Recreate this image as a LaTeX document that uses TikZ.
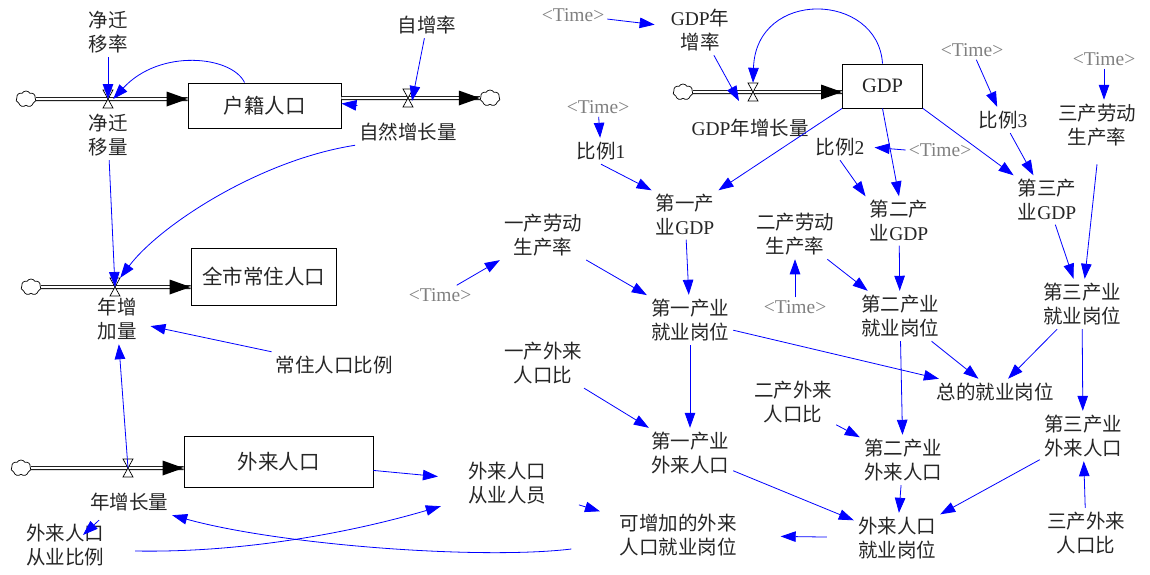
\documentclass[tikz,border=0pt]{standalone}
\usepackage{fontspec}
\setmainfont{Liberation Serif}
\newfontfamily\cjk{Noto Sans CJK SC}
\usetikzlibrary{arrows.meta,shapes.symbols,calc}
\newcommand\latn[1]{{\rmfamily #1}}
\newcommand\tm{\textless Time\textgreater}
\newcommand\drawvalve[1]{\draw[line width=0.7pt, fill=white] ([shift={(-5,-9)}]#1.center) -- ([shift={(5,-9)}]#1.center) -- ([shift={(-5,9)}]#1.center) -- ([shift={(5,9)}]#1.center) -- cycle;}
\begin{document}
\begin{tikzpicture}[x=1pt,y=-1pt,
  lab/.style={align=center, font=\cjk\fontsize{19.5}{24}\selectfont, inner sep=4pt, text=black!85},
  tim/.style={font=\rmfamily\fontsize{19.5}{24}\selectfont, text=black!50, inner sep=3pt},
  stock/.style={draw, line width=0.9pt, font=\cjk\fontsize{20.5}{24}\selectfont, inner sep=0pt, text=black!85},
  cn/.style={draw=blue, line width=0.8pt, -{Triangle[length=15pt,width=10.5pt]}},
  pipe/.style={draw=black, line width=0.8pt, double=white, double distance=2.4pt},
  vnode/.style={minimum width=10pt, minimum height=18pt, inner sep=0pt},
  cld/.style={cloud, cloud puffs=7, cloud puff arc=120, aspect=1.2, draw, line width=0.7pt, minimum width=20pt, minimum height=16pt, inner sep=0pt, fill=white},
]
\useasboundingbox (0,0) rectangle (1150,574);

% stocks
\node[stock, minimum width=153pt, minimum height=45pt] (hjrk) at (264.5,105.5) {户籍人口};
\node[stock, minimum width=145pt, minimum height=57pt] (qcrk) at (263.5,276.5) {全市常住人口};
\node[stock, minimum width=189pt, minimum height=51pt] (wlrk) at (278.5,461.5) {外来人口};
\node[stock, minimum width=80pt, minimum height=44pt, font=\rmfamily\fontsize{20.5}{24}\selectfont] (gdp) at (882.5,86) {GDP};

% valves and clouds
\node[vnode] (v1) at (108,99) {};
\node[vnode] (v2) at (408,98) {};
\node[vnode] (v3) at (115,287) {};
\node[vnode] (v4) at (128,468) {};
\node[vnode] (v5) at (753,92) {};
\node[cld] (c1) at (26,99) {};
\node[cld] (c2) at (490,98) {};
\node[cld] (c3) at (31,287) {};
\node[cld] (c4) at (21,468) {};
\node[cld] (c5) at (683,92) {};

% pipes
\draw[pipe] (c1) -- (hjrk.west |- c1);
\draw[pipe] (hjrk.east |- c2) -- (c2);
\draw[pipe] (c3) -- (qcrk.west |- c3);
\draw[pipe] (c4) -- (wlrk.west |- c4);
\draw[pipe] (c5) -- (gdp.west |- c5);
\drawvalve{v1}
\drawvalve{v2}
\drawvalve{v3}
\drawvalve{v4}
\drawvalve{v5}
\fill (hjrk.west |- c1) -- ++(-21,-7.5) -- ++(0,15) -- cycle;
\fill (c2.west) -- ++(-21,-7.5) -- ++(0,15) -- cycle;
\fill (qcrk.west |- c3) -- ++(-21,-7.5) -- ++(0,15) -- cycle;
\fill (wlrk.west |- c4) -- ++(-21,-7.5) -- ++(0,15) -- cycle;
\fill (gdp.west |- c5) -- ++(-21,-7.5) -- ++(0,15) -- cycle;

% labels
\node[lab] (jqyl) at (108,32) {净迁\\移率};
\node[lab] (zzl) at (427,25) {自增率};
\node[lab] (jqyliang) at (108,135) {净迁\\移量};
\node[lab] (zrzzl) at (408,132) {自然增长量};
\node[lab] (nzjl) at (117,319) {年增\\加量};
\node[lab] (czbl) at (334,365) {常住人口比例};
\node[lab] (nzzl) at (129,502) {年增长量};
\node[lab] (wlcybl) at (65,545) {外来人口\\从业比例};
\node[lab] (wlcyry) at (507,483) {外来人口\\从业人员};
\node[lab] (kzj) at (678,535) {可增加的外来\\人口就业岗位};
\node[tim] (t1) at (573,15) {\tm};
\node[lab] (gdpr) at (700,30) {\latn{GDP}年\\增率};
\node[lab] (gdpzl) at (750,128) {\latn{GDP}年增长量};
\node[tim] (t2) at (598,107) {\tm};
\node[lab] (bl1) at (601,151) {比例\latn{1}};
\node[lab] (g1) at (685,215) {第一产\\业\latn{GDP}};
\node[lab] (bl2) at (840,147) {比例\latn{2}};
\node[tim] (t3) at (940,150) {\tm};
\node[lab] (g2) at (899,221) {第二产\\业\latn{GDP}};
\node[tim] (t4) at (972,50) {\tm};
\node[lab] (bl3) at (1003,120) {比例\latn{3}};
\node[lab] (g3) at (1047,200) {第三产\\业\latn{GDP}};
\node[tim] (t5) at (1104,59) {\tm};
\node[lab] (sl3) at (1097,125) {三产劳动\\生产率};
\node[lab] (j3) at (1082,304) {第三产业\\就业岗位};
\node[lab] (sl1) at (543,235) {一产劳动\\生产率};
\node[tim] (t6) at (440,295) {\tm};
\node[lab] (j1) at (690,320) {第一产业\\就业岗位};
\node[lab] (sl2) at (795,234) {二产劳动\\生产率};
\node[tim] (t7) at (795,307) {\tm};
\node[lab] (j2) at (900,316) {第二产业\\就业岗位};
\node[lab] (zj) at (995,392) {总的就业岗位};
\node[lab] (wb1) at (543,363) {一产外来\\人口比};
\node[lab] (w1) at (690,453) {第一产业\\外来人口};
\node[lab] (wb2) at (793,402) {二产外来\\人口比};
\node[lab] (w2) at (903,460) {第二产业\\外来人口};
\node[lab] (w3) at (1083,436) {第三产业\\外来人口};
\node[lab] (wb3) at (1086,533) {三产外来\\人口比};
\node[lab] (wj) at (897,538) {外来人口\\就业岗位};

% connectors (left part)
\draw[cn] (jqyl) -- (v1.center);
\draw[cn] (zzl) -- ([shift={(4,3)}]v2.center);
\draw[cn] (hjrk.131) .. controls (232,56) and (160,48) .. (v1.east);
\draw[cn] (zrzzl.south west) .. controls (260,160) and (160,225) .. (v3.north east);
\draw[cn] (jqyliang) -- (v3.center);
\draw[cn, shorten >=10pt] (czbl) -- (nzjl);
\draw[cn] (v4.center) -- (nzjl);
\draw[cn] ([xshift=16pt]hjrk.east) -- ([yshift=2pt]hjrk.east);
\draw[cn, shorten >=26pt] (wlrk) -- (wlcyry);
\draw[cn] ([shift={(27,6)}]wlcybl.east) .. controls (250,553) and (360,530) .. ([shift={(-23,-2)}]wlcyry.south west);
\draw[cn] ([shift={(-44,14)}]kzj.west) .. controls (480,560) and (280,545) .. (nzzl.south east);
\draw[cn] ([shift={(-30,5)}]nzzl.south) -- ([shift={(18,-10)}]wlcybl.center);

% connectors (GDP part)
\draw[cn, shorten >=12pt] (t1) -- (gdpr);
\draw[cn] (gdpr) -- ([shift={(-14,9)}]v5.center);
\draw[cn] (gdp.north) .. controls (878,-8) and (756,-12) .. (v5.north);
\draw[cn] (t2) -- (bl1);
\draw[cn] (bl1.south) -- (g1.north west);
\draw[cn] (gdp.south west) -- (g1.north east);
\draw[cn, shorten >=6pt] (t3.west) -- (bl2.east);
\draw[cn] (bl2.south) -- (g2.north west);
\draw[cn] (gdp.south) -- (g2.north);
\draw[cn] (t4) -- (bl3);
\draw[cn] (gdp.south east) -- (g3.north west);
\draw[cn] (bl3) -- (g3);
\draw[cn] (t5.south) -- (t5.south |- sl3.north);
\draw[cn] ([yshift=-14pt]sl3.south) -- (j3);
\draw[cn] (g3) -- (j3);
\draw[cn] (j3) -- (zj);
\draw[cn] (j3) -- (w3);
\draw[cn] (t6) -- (sl1);
\draw[cn] (sl1) -- (j1);
\draw[cn] (g1) -- (j1);
\draw[cn] (j1) -- (zj);
\draw[cn] (j2) -- (zj);
\draw[cn] (j1) -- (w1);
\draw[cn] (j2) -- (w2);
\draw[cn] (t7) -- (sl2);
\draw[cn] (sl2) -- (j2);
\draw[cn] (g2) -- (j2);
\draw[cn] (wb1) -- (w1);
\draw[cn] (wb2) -- (w2);
\draw[cn] (wb3) -- (w3);
\draw[cn] (w1) -- (wj);
\draw[cn] (w2) -- (wj);
\draw[cn] (w3) -- (wj);
\draw[cn, shorten <=27pt, shorten >=40pt] (wj) -- (kzj);
\draw[cn, shorten <=30pt, shorten >=16pt] (wlcyry) -- (kzj);
\end{tikzpicture}
\end{document}
